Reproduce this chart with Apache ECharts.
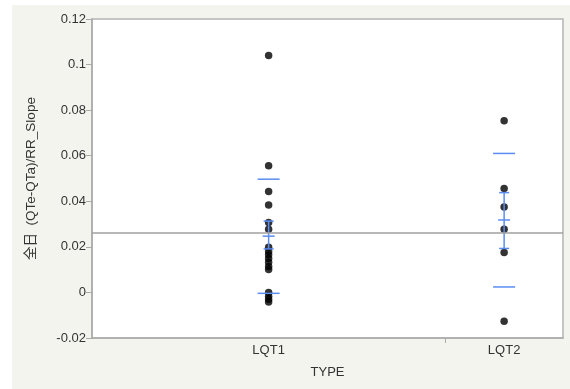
<!DOCTYPE html>
<html lang="en">

<head>
    <meta charset="UTF-8">
    <title>Oneway TYPE</title>
    <style>
        * {
            padding: 0;
            margin: 0;
        }
    </style>
    <script type="text/javascript" src="https://cdn.jsdelivr.net/npm/echarts@6/dist/echarts.min.js"></script>
</head>

<body>
    <div id="main" style="width: 570px;height:389px;"></div>
    <script type="text/javascript">
        // 数据
        var categories = ["LQT1", "LQT2"];
        // 各组在x轴上的中心位置（宽度按样本数）
        var catCenters = [0.375, 0.875];
        var catSplit = 0.75;

        var lqt1Values = [0.104, 0.0556, 0.0443, 0.0384, 0.0307, 0.0277, 0.0198, 0.018, 0.0165,
            0.0149, 0.0132, 0.0114, 0.0101, 0.0, -0.0017, -0.003, -0.0042];
        var lqt2Values = [0.0753, 0.0456, 0.0375, 0.0277, 0.0175, -0.0126];

        // 均值 / 标准差线 / 置信区间
        var groupMeans = [0.0247, 0.0318];
        var sdUpper = [0.0497, 0.0610];
        var sdLower = [-0.0004, 0.0024];
        var ciUpper = [0.0313, 0.0438];
        var ciLower = [0.0191, 0.0193];
        var grandMean = 0.0262;

        var yTicks = [-0.02, 0, 0.02, 0.04, 0.06, 0.08, 0.1, 0.12];

        var font = "'Liberation Sans', 'Noto Sans CJK SC', sans-serif";
        var blue = "#5a8cf2";

        var pointData = lqt1Values.map(function (v) { return [catCenters[0], v]; })
            .concat(lqt2Values.map(function (v) { return [catCenters[1], v]; }));

        var statData = categories.map(function (c, i) {
            return [catCenters[i], groupMeans[i], sdUpper[i], sdLower[i], ciUpper[i], ciLower[i]];
        });

        var myChart = echarts.init(document.getElementById('main'));

        var option = {
            backgroundColor: "#fff",
            animation: false,
            textStyle: {
                fontFamily: font
            },
            graphic: [{
                type: "rect",
                left: 12,
                top: 5,
                z: -10,
                shape: { width: 560, height: 390 },
                style: { fill: "#f4f4ef" }
            }],
            grid: {
                left: 92,
                right: 7,
                top: 19,
                bottom: 51,
                show: true,
                backgroundColor: "#fff",
                borderColor: "#b4b4b4",
                borderWidth: 1.5
            },
            xAxis: {
                type: "value",
                min: 0,
                max: 1,
                name: "TYPE",
                nameLocation: "middle",
                nameGap: 28,
                nameTextStyle: { color: "#333", fontSize: 13, fontFamily: font },
                axisLine: { onZero: false, lineStyle: { color: "#aaa", width: 1.5 } },
                axisTick: {
                    show: true,
                    customValues: [catSplit],
                    length: 5,
                    lineStyle: { color: "#aaa" }
                },
                axisLabel: {
                    customValues: catCenters,
                    margin: 6,
                    color: "#333",
                    fontSize: 13,
                    formatter: function (v) {
                        var i = catCenters.indexOf(v);
                        return i >= 0 ? categories[i] : "";
                    }
                },
                splitLine: { show: false }
            },
            yAxis: {
                type: "value",
                min: -0.02,
                max: 0.12,
                interval: 0.02,
                name: "全日  (QTe-QTa)/RR_Slope",
                nameLocation: "middle",
                nameGap: 54,
                nameTextStyle: { color: "#333", fontSize: 13.5, fontFamily: font },
                axisLine: { show: true, onZero: false, lineStyle: { color: "#aaa", width: 1.5 } },
                axisTick: { show: true, length: 6, lineStyle: { color: "#aaa" } },
                axisLabel: {
                    color: "#333",
                    fontSize: 13,
                    margin: 6,
                    formatter: function (v) {
                        var r = Math.round(v * 100) / 100;
                        return yTicks.indexOf(r) >= 0 ? String(r) : "";
                    }
                },
                splitLine: { show: false }
            },
            series: [{
                type: "scatter",
                data: pointData,
                symbolSize: 7.5,
                itemStyle: { color: "#000" },
                z: 3,
                markLine: {
                    silent: true,
                    symbol: "none",
                    precision: 4,
                    label: { show: false },
                    lineStyle: { color: "#a0a0a0", width: 1.5, type: "solid" },
                    data: [{ yAxis: grandMean }]
                }
            }, {
                type: "custom",
                data: statData,
                z: 4,
                renderItem: function (params, api) {
                    var x = api.coord([api.value(0), 0])[0];
                    function yOf(k) { return api.coord([0, api.value(k)])[1]; }
                    var style = { stroke: blue, lineWidth: 1.5 };
                    function hline(y, half) {
                        return { type: "line", shape: { x1: x - half, y1: y, x2: x + half, y2: y }, style: style };
                    }
                    return {
                        type: "group",
                        children: [
                            hline(yOf(1), 6),
                            hline(yOf(2), 11),
                            hline(yOf(3), 11),
                            hline(yOf(4), 5),
                            hline(yOf(5), 5),
                            { type: "line", shape: { x1: x, y1: yOf(4), x2: x, y2: yOf(5) }, style: style }
                        ]
                    };
                }
            }]
        };

        myChart.setOption(option);
    </script>
</body>

</html>
